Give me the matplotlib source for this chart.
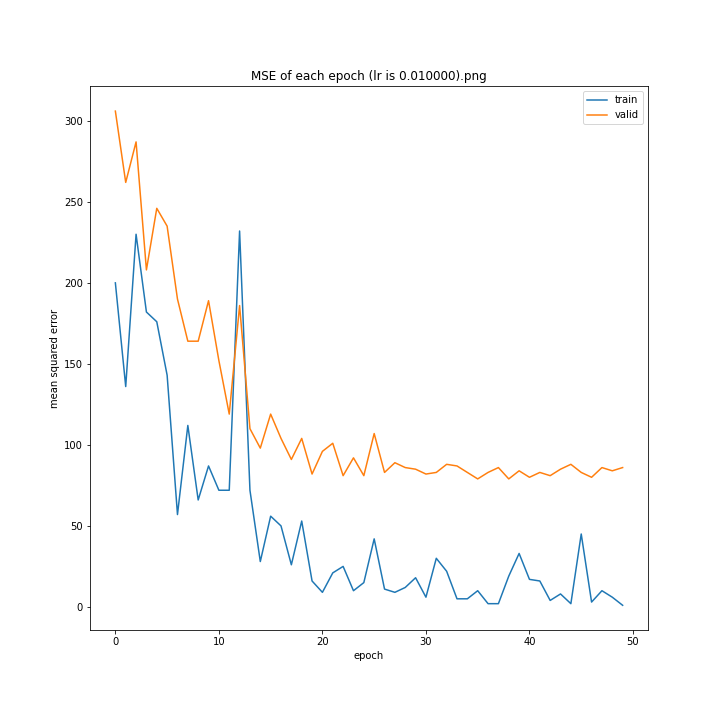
import matplotlib
matplotlib.use("Agg")
import matplotlib.pyplot as plt

epochs = list(range(50))
train = [200,136,230,182,176,143,57,112,66,87,72,72,232,72,28,56,50,26,53,16,
         9,21,25,10,15,42,11,9,12,18,6,30,22,5,5,10,2,2,19,33,
         17,16,4,8,2,45,3,10,6,1]
valid = [306,262,287,208,246,235,190,164,164,189,152,119,186,110,98,119,104,91,104,82,
         96,101,81,92,81,107,83,89,86,85,82,83,88,87,83,79,83,86,79,84,
         80,83,81,85,88,83,80,86,84,86]

fig, ax = plt.subplots(figsize=(10, 10), dpi=72)
fig.subplots_adjust(bottom=0.125)
ax.plot(epochs, train, label="train")
ax.plot(epochs, valid, label="valid")
ax.set_title("MSE of each epoch (lr is 0.010000).png")
ax.set_xlabel("epoch")
ax.set_ylabel("mean squared error")
ax.legend(loc="upper right")
fig.savefig("out.png", dpi=72)
